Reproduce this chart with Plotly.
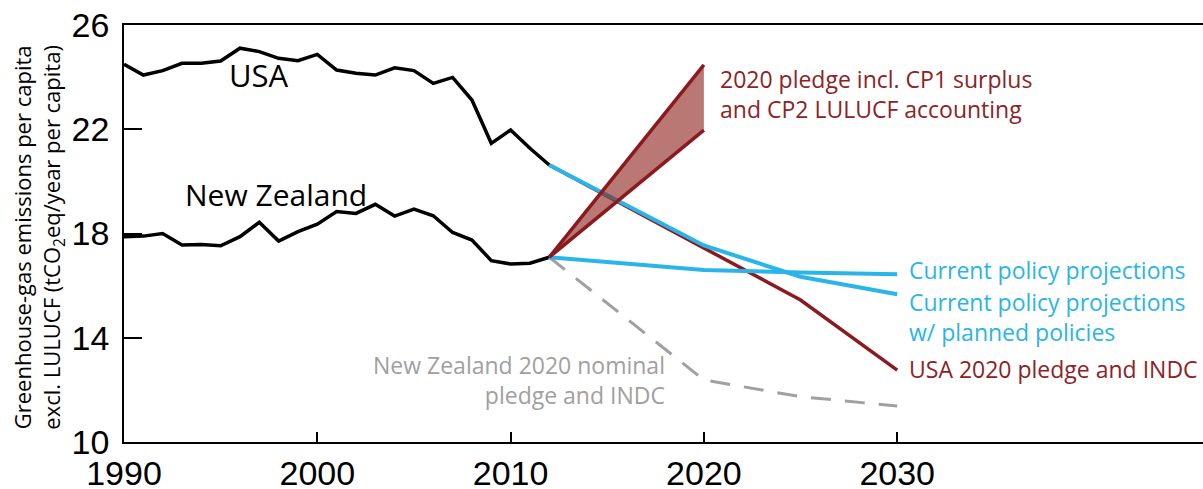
import plotly.graph_objects as go

# ---------------- data ----------------
hist_years = list(range(1990, 2013))
usa_hist = [24.49, 24.08, 24.25, 24.53, 24.53, 24.62, 25.11, 24.98, 24.72, 24.63,
            24.87, 24.27, 24.15, 24.08, 24.36, 24.25, 23.76, 23.99, 23.12, 21.46,
            21.97, 21.27, 20.63]
nz_hist = [17.88, 17.90, 18.00, 17.56, 17.58, 17.53, 17.88, 18.43, 17.71, 18.07,
           18.36, 18.84, 18.77, 19.12, 18.67, 18.94, 18.68, 18.04, 17.75, 16.96,
           16.83, 16.86, 17.09]

proj_years = [2012, 2020, 2025, 2030]
usa_cpp_planned = [20.63, 17.54, 16.34, 15.67]
nz_cpp = [17.09, 16.60, 16.50, 16.44]
usa_pledge = [20.63, 17.44, 15.45, 12.76]
nz_nominal = [17.09, 12.38, 11.74, 11.38]

band_years = [2012, 2020]
band_upper = [17.09, 24.47]
band_lower = [17.09, 21.97]

x_ticks = [1990, 2000, 2010, 2020, 2030]
x_tick_labels = ["1990", "2000", "2010", "2020", "2030"]
y_ticks = [10, 14, 18, 22, 26]
y_tick_labels = ["10", "14", "18", "22", "26"]

# ---------------- style ----------------
BLACK = "#000000"
BLUE = "#29B5E8"
RED = "#8B1A20"
RED_TXT = "#8E2225"
GRAY = "#A0A0A0"
FILL = "rgba(140,30,25,0.6)"
TXT_FONT = "Open Sans, Noto Sans, sans-serif"
NUM_FONT = "Liberation Sans, Arial, sans-serif"

fig = go.Figure()

fig.add_trace(go.Scatter(x=hist_years, y=usa_hist, mode="lines",
                         line=dict(color=BLACK, width=3.5)))
fig.add_trace(go.Scatter(x=hist_years, y=nz_hist, mode="lines",
                         line=dict(color=BLACK, width=3.5)))
fig.add_trace(go.Scatter(x=proj_years, y=nz_nominal, mode="lines",
                         line=dict(color=GRAY, width=3, dash="20px,14px")))
fig.add_trace(go.Scatter(x=proj_years, y=usa_pledge, mode="lines",
                         line=dict(color=RED, width=3.5)))
fig.add_trace(go.Scatter(x=proj_years, y=usa_cpp_planned, mode="lines",
                         line=dict(color=BLUE, width=4)))
fig.add_trace(go.Scatter(x=proj_years, y=nz_cpp, mode="lines",
                         line=dict(color=BLUE, width=4)))

# band polygon
poly_x = band_years + band_years[::-1]
poly_y = band_upper + band_lower[::-1]
fig.add_trace(go.Scatter(x=poly_x, y=poly_y, mode="lines", fill="toself",
                         fillcolor=FILL, line=dict(width=0)))
fig.add_trace(go.Scatter(x=band_years, y=band_upper, mode="lines",
                         line=dict(color=RED, width=3.5)))
fig.add_trace(go.Scatter(x=band_years, y=band_lower, mode="lines",
                         line=dict(color=RED, width=3.5)))

W, H = 1203, 489
L, R, T, B = 124, 0, 25, 47
px_per_year = 19.33
x_max = 1990 + (W - L - R) / px_per_year

fig.update_layout(
    width=W, height=H,
    margin=dict(l=L, r=R, t=T, b=B, autoexpand=False),
    paper_bgcolor="white", plot_bgcolor="white",
    showlegend=False,
    xaxis=dict(range=[1990, x_max], tickvals=x_ticks, ticktext=x_tick_labels,
               ticks="inside", ticklen=10, tickwidth=1.5, tickcolor=BLACK,
               showline=True, linecolor=BLACK, linewidth=1.5, mirror=True,
               showgrid=False, zeroline=False, automargin=False,
               ticklabelstandoff=0,
               tickfont=dict(family=NUM_FONT, size=34, color=BLACK)),
    yaxis=dict(range=[10, 26], tickvals=y_ticks, ticktext=y_tick_labels,
               ticks="inside", ticklen=18, tickwidth=1.5, tickcolor=BLACK,
               showline=True, linecolor=BLACK, linewidth=1.5,
               showgrid=False, zeroline=False, automargin=False,
               ticklabelstandoff=6,
               tickfont=dict(family=NUM_FONT, size=34, color=BLACK)),
)

def ann(text, x, y, color, size=23, xanchor="left", align="left", **kw):
    fig.add_annotation(text=text, x=x, y=y, xref="x", yref="y", showarrow=False,
                       xanchor=xanchor, yanchor="middle", align=align,
                       font=dict(family=TXT_FONT, size=size, color=color), **kw)

ann("USA", 1997.0, 24.08, BLACK, size=31, xanchor="center")
ann("New Zealand", 1997.85, 19.51, BLACK, size=30, xanchor="center")
ann("2020 pledge incl. CP1 surplus<br>and CP2 LULUCF accounting", 2020.75, 23.35, RED_TXT)
ann("Current policy projections", 2030.5, 16.6, BLUE)
ann("Current policy projections<br>w/ planned policies", 2030.5, 14.8, BLUE)
ann("USA 2020 pledge and INDC", 2030.5, 12.8, RED_TXT)
ann("New Zealand 2020 nominal<br>pledge and INDC", 2018.1, 12.36, GRAY,
    xanchor="right", align="right")

fig.add_annotation(text="Greenhouse-gas emissions per capita<br>excl. LULUCF (tCO<sub>2</sub>eq/year per capita)",
                   xref="paper", yref="paper", x=(38 - L) / (W - L - R), y=0.49,
                   xanchor="center", yanchor="middle", textangle=-90, showarrow=False,
                   font=dict(family=TXT_FONT, size=22, color=BLACK))

fig.write_html("out.html")
